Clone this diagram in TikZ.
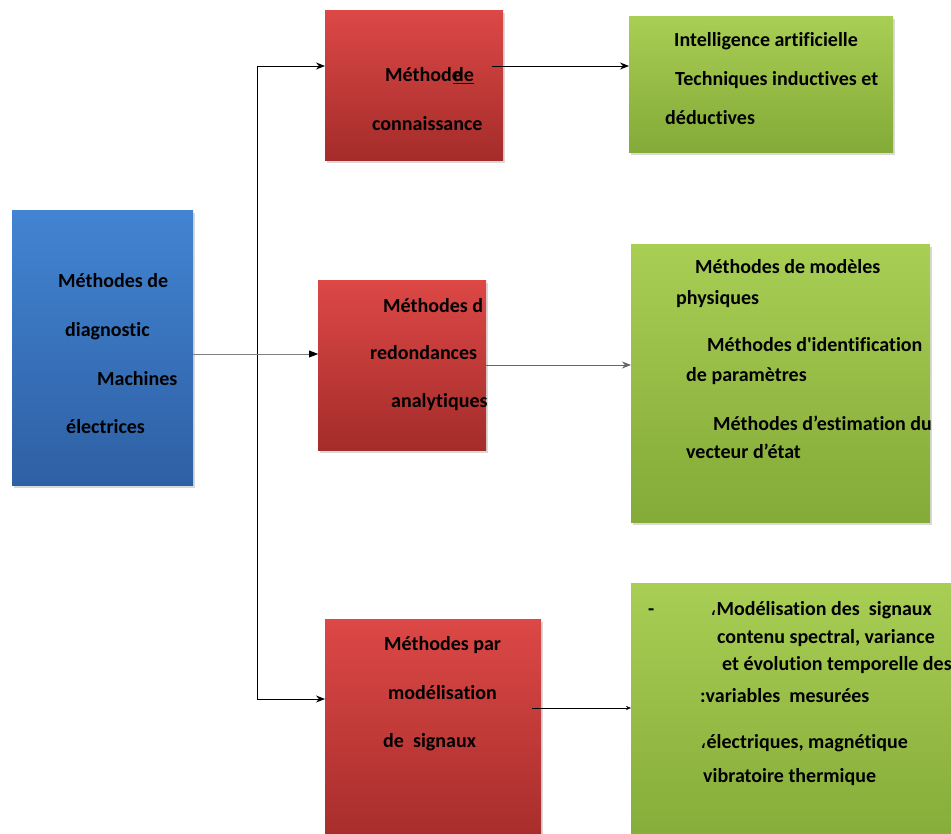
\documentclass[tikz,border=0pt]{standalone}
\usepackage{fontspec}
\setmainfont{Carlito}[Ligatures={NoCommon}]
\newfontfamily\arabicfont[Script=Arabic]{DejaVu Sans}
\TeXXeTstate=1
\usetikzlibrary{arrows.meta,shadows}
\definecolor{bluetop}{RGB}{66,132,210}
\definecolor{bluebot}{RGB}{46,96,164}
\definecolor{redtop}{RGB}{220,72,70}
\definecolor{redbot}{RGB}{164,44,42}
\definecolor{greentop}{RGB}{168,206,84}
\definecolor{greenbot}{RGB}{132,170,56}
\newcommand{\acomma}{{\arabicfont\mdseries\beginR ،\endR}}

\begin{document}
\begin{tikzpicture}[x=1pt,y=-1pt,
  >={Stealth[length=9pt,width=7pt]},
  box/.style={rectangle,inner sep=0pt,anchor=north west,
              drop shadow={shadow xshift=1.5pt,shadow yshift=-2.5pt,opacity=0.3}},
  bluebox/.style={box,top color=bluetop,bottom color=bluebot},
  redbox/.style={box,top color=redtop,bottom color=redbot},
  greenbox/.style={box,top color=greentop,bottom color=greenbot},
  txt/.style={anchor=base west,inner sep=0pt,font=\bfseries\fontsize{20}{24}\selectfont},
  link/.style={->,line width=0.9pt,black},
]
  \useasboundingbox (0,0) rectangle (951,834);

  % --- boxes ---
  \node[bluebox,minimum width=181pt,minimum height=275pt] (diag) at (12,210) {};
  \node[redbox,minimum width=178pt,minimum height=150pt] (connais) at (325,10) {};
  \node[redbox,minimum width=168pt,minimum height=170pt] (redond) at (318,280) {};
  \node[redbox,minimum width=216pt,minimum height=230pt] (signaux) at (325,619) {};
  \node[greenbox,minimum width=264pt,minimum height=136pt] (ia) at (629,16) {};
  \node[greenbox,minimum width=299pt,minimum height=278pt] (modeles) at (631,244) {};
  \node[greenbox,minimum width=330pt,minimum height=270pt] (mesures) at (631,583) {};

  % --- texts, left ---
  \node[txt] (d1) at (58,288) {Méthodes de};
  \node[txt] (d2) at (65,337) {diagnostic};
  \node[txt] (d3) at (97,385) {Machines};
  \node[txt] (d4) at (66,433) {électrices};

  % --- texts, middle ---
  \node[txt] (c1) at (385,82) {Méthode};
  \node[txt] (c2) at (453,82) {\underline{de}};
  \node[txt] (c3) at (372,131) {connaissance};
  \node[txt] (r1) at (383,313) {Méthodes d};
  \node[txt] (r2) at (370,360) {redondances};
  \node[txt] (r3) at (391,407) {analytiques};
  \node[txt] (s1) at (384,650) {Méthodes par};
  \node[txt] (s2) at (388,699) {modélisation};
  \node[txt] (s3) at (383,747) {de\ \ signaux};

  % --- texts, right ---
  \node[txt] (i1) at (674,47) {Intelligence artificielle};
  \node[txt] (i2) at (675,86) {Techniques inductives et};
  \node[txt] (i3) at (665,125) {déductives};
  \node[txt] (m1) at (695,274) {Méthodes de modèles};
  \node[txt] (m2) at (676,305) {physiques};
  \node[txt] (m3) at (707,352) {Méthodes d\textquotesingle identification};
  \node[txt] (m4) at (686,382) {de paramètres};
  \node[txt] (m5) at (713,430) {Méthodes d’estimation du};
  \node[txt] (m6) at (686,458) {vecteur d’état};
  \node[txt] (v0) at (648,615) {-};
  \node[txt] (v1) at (710,615) {\acomma Modélisation des\ \ signaux};
  \node[txt] (v2) at (717,643) {contenu spectral, variance};
  \node[txt] (v3) at (722,670) {et évolution temporelle des};
  \node[txt] (v4) at (700,702) {:variables\ \ mesurées};
  \node[txt] (v5) at (700,748) {\acomma électriques, magnétique};
  \node[txt] (v6) at (703,782) {vibratoire thermique};

  % --- connectors ---
  \coordinate (jtop) at (257,66);
  \coordinate (jmid) at (257,354);
  \coordinate (jbot) at (257,699);
  \coordinate (k1) at (492,66);
  \coordinate (k2) at (486,365);
  \coordinate (k3) at (532,708);
  \draw[line width=0.9pt,black] (jtop) -- (jbot);
  \draw[link] (jtop) -- (connais.west |- jtop);
  \draw[link,black!50] (diag.east |- jmid) -- (redond.west |- jmid);
  \fill[black] (redond.west |- jmid) ++(-9,-3.5) -- ++(9,3.5) -- ++(-9,3.5) -- cycle;
  \draw[link] (jbot) -- (signaux.west |- jbot);
  \draw[link] (k1) -- (ia.west |- k1);
  \draw[link,black!60] (k2) -- (modeles.west |- k2);
  \draw[->,line width=0.4pt,black,>={Stealth[length=5pt,width=4pt]}] (k3) -- (mesures.west |- k3);
\end{tikzpicture}
\end{document}
